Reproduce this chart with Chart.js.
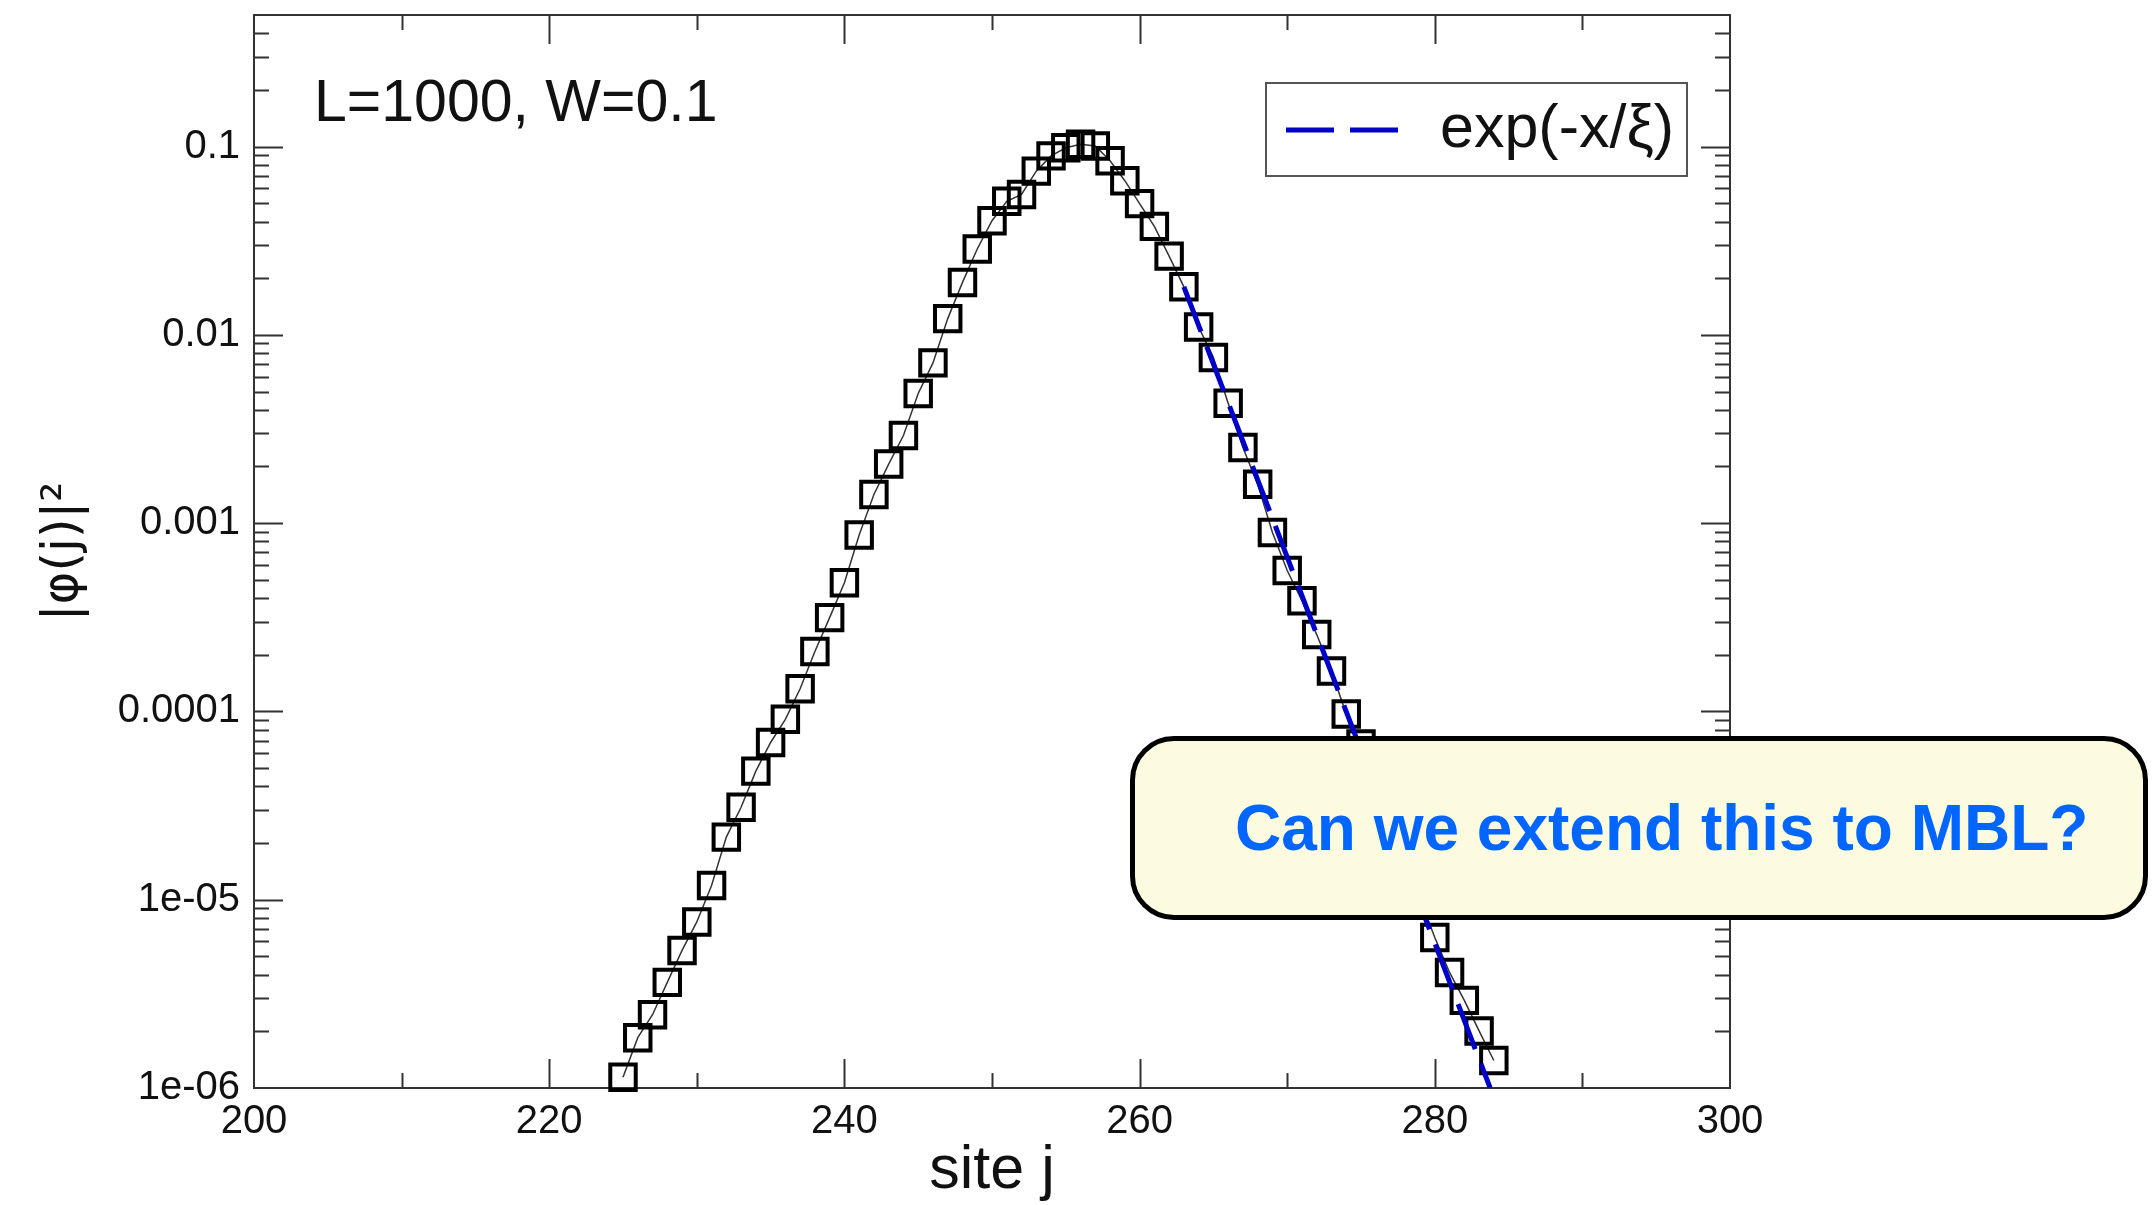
<!DOCTYPE html>
<html>
<head>
<meta charset="utf-8">
<title>|φ(j)|² vs site j</title>
<script src="https://cdn.jsdelivr.net/npm/chart.js@4.4.0/dist/chart.umd.min.js"></script>
<style>
  html,body{margin:0;padding:0;background:#fff;}
  #wrap{position:relative;width:2156px;height:1205px;overflow:hidden;}
  #chart{position:absolute;left:0;top:0;}
  .callout{position:absolute;left:1130px;top:736px;width:1008px;height:174px;border:5px solid #000;border-radius:44px;background:#fcfbe0;}
  .callout span{position:absolute;left:100px;top:55px;font:bold 64px "Liberation Sans",Arial,sans-serif;line-height:64px;color:#0066ff;white-space:nowrap;}
</style>
</head>
<body>
<div id="wrap">
  <canvas id="chart" width="2156" height="1205"></canvas>
  <div class="callout"><span>Can we extend this to MBL?</span></div>
</div>
<script>
// |phi(j)|^2 on a log scale (sites 276-279 sit under the callout)
const sites = [225,226,227,228,229,230,231,232,233,234,235,236,237,238,239,240,241,242,243,244,
  245,246,247,248,249,250,251,252,253,254,255,256,257,258,259,260,261,262,263,264,
  265,266,267,268,269,270,271,272,273,274,275,280,281,282,283,284];
const density = [1.14e-6,1.85e-6,2.45e-6,3.64e-6,5.38e-6,7.62e-6,1.19e-5,2.15e-5,3.10e-5,4.82e-5,
  6.84e-5,9.08e-5,1.32e-4,2.08e-4,3.15e-4,4.83e-4,8.65e-4,1.42e-3,2.06e-3,2.92e-3,
  4.88e-3,7.10e-3,1.22e-2,1.90e-2,2.86e-2,4.04e-2,5.12e-2,5.57e-2,7.41e-2,8.93e-2,
  9.86e-2,0.1028,0.1007,8.41e-2,6.59e-2,4.98e-2,3.77e-2,2.62e-2,1.80e-2,1.10e-2,
  7.59e-3,4.33e-3,2.52e-3,1.61e-3,8.93e-4,5.60e-4,3.87e-4,2.56e-4,1.64e-4,9.68e-5,
  6.71e-5,6.30e-6,4.11e-6,2.92e-6,2.01e-6,1.40e-6];

// exponential fit (straight on log axis): end points
const fitSites = [263, 283.75];
const fitDensity = [1.80e-2, 1.0e-6];

const xTicks = [200,220,240,260,280,300];
const yTicks = [1e-6,1e-5,1e-4,1e-3,1e-2,1e-1];
const yTickLabels = ['1e-06','1e-05','0.0001','0.001','0.01','0.1'];
const legendLabel = 'exp(-x/\u03BE)';
const infoText = 'L=1000, W=0.1';

const FONT = '"Liberation Sans", Arial, Helvetica, sans-serif';
const AXIS = '#333';

// frame + inward ticks on all four sides, legend and label
const decorations = {
  id:'decorations',
  beforeDatasetsDraw(chart){
    const {ctx, chartArea:a, scales:{x, y}} = chart;
    ctx.save();
    ctx.strokeStyle = AXIS; ctx.lineWidth = 2;
    ctx.strokeRect(a.left, a.top, a.right-a.left, a.bottom-a.top);
    ctx.beginPath();
    // x: major at labelled ticks, minor halfway between
    xTicks.forEach((v,i)=>{
      const marks = [[v,29]];
      if(i<xTicks.length-1) marks.push([(v+xTicks[i+1])/2,15]);
      marks.forEach(([val,len])=>{
        if(val<=x.min || val>=x.max) return;
        const px = Math.round(x.getPixelForValue(val))+0.5;
        ctx.moveTo(px,a.bottom); ctx.lineTo(px,a.bottom-len);
        ctx.moveTo(px,a.top); ctx.lineTo(px,a.top+len);
      });
    });
    // y: decades long, 2..9 short
    yTicks.forEach(d=>{
      for(let k=1;k<10;k++){
        const v = k*d;
        if(v<=y.min*1.0001 || v>=y.max) continue;
        const py = Math.round(y.getPixelForValue(v))+0.5;
        const len = k===1 ? 29 : 15;
        ctx.moveTo(a.left,py); ctx.lineTo(a.left+len,py);
        ctx.moveTo(a.right,py); ctx.lineTo(a.right-len,py);
      }
    });
    ctx.stroke();
    ctx.restore();
  },
  afterDraw(chart){
    const {ctx, chartArea:a} = chart;
    const fit = chart.data.datasets[0];
    ctx.save();
    // info label
    ctx.fillStyle = '#111';
    ctx.font = '59px ' + FONT;
    ctx.textBaseline = 'alphabetic';
    ctx.fillText(infoText, a.left+60, a.top+106);
    // legend box
    const bx = a.right-464, by = a.top+68, bw = 421, bh = 93;
    ctx.fillStyle = '#fff';
    ctx.fillRect(bx,by,bw,bh);
    ctx.strokeStyle = '#555'; ctx.lineWidth = 2;
    ctx.strokeRect(bx,by,bw,bh);
    ctx.beginPath();
    ctx.strokeStyle = fit.borderColor; ctx.lineWidth = fit.borderWidth;
    ctx.setLineDash(fit.borderDash);
    ctx.moveTo(bx+20, by+47); ctx.lineTo(bx+138, by+47);
    ctx.stroke();
    ctx.setLineDash([]);
    ctx.fillStyle = '#111';
    ctx.font = '61px ' + FONT;
    ctx.textBaseline = 'middle';
    ctx.fillText(fit.label, bx+174, by+47);
    ctx.restore();
  }
};

new Chart(document.getElementById('chart'), {
  type:'line',
  data:{
    datasets:[
      {
        label: legendLabel,
        data: fitSites.map((s,i)=>({x:s, y:fitDensity[i]})),
        borderColor:'#0000c8', borderWidth:5, borderDash:[48,16],
        pointRadius:0, fill:false, tension:0
      },
      {
        label:'|\u03C6(j)|\u00B2',
        data: sites.map((s,i)=>({x:s, y:density[i]})),
        borderColor:'#333', borderWidth:1.5, tension:0, fill:false,
        pointStyle:'rect', pointRadius:18, pointBorderWidth:4,
        pointBorderColor:'#000', pointBackgroundColor:'rgba(0,0,0,0)',
        clip:false
      }
    ]
  },
  options:{
    responsive:false,
    animation:false,
    events:[],
    layout:{autoPadding:false, padding:{top:15, right:426, bottom:0, left:0}},
    plugins:{legend:{display:false}, tooltip:{enabled:false}},
    scales:{
      x:{
        type:'linear', min:200, max:300,
        afterBuildTicks(s){ s.ticks = xTicks.map(v=>({value:v})); },
        afterFit(s){ s.height = 117; s.paddingLeft = 0; s.paddingRight = 0; },
        grid:{display:false, drawTicks:false},
        border:{display:false},
        ticks:{padding:10, color:'#111', font:{family:FONT, size:40}, maxRotation:0, autoSkip:false,
          callback:v=>String(v)},
        title:{display:true, text:'site j', color:'#111', font:{family:FONT, size:61}, padding:{top:0, bottom:-3}}
      },
      y:{
        type:'logarithmic', min:1e-6, max:0.5,
        afterBuildTicks(s){ s.ticks = yTicks.map(v=>({value:v})); },
        afterFit(s){ s.width = 254; s.paddingTop = 0; s.paddingBottom = 0; },
        grid:{display:false, drawTicks:false},
        border:{display:false},
        ticks:{padding:14, color:'#111', font:{family:FONT, size:40}, autoSkip:false,
          callback:v=>{ const i = yTicks.indexOf(v); return i>=0 ? yTickLabels[i] : ''; }},
        title:{display:true, text:'|\u03C6(j)|\u00B2', color:'#111',
          font:{family:'"DejaVu Sans", sans-serif', size:50}, padding:{top:34, bottom:0}}
      }
    }
  },
  plugins:[decorations]
});
</script>
</body>
</html>
